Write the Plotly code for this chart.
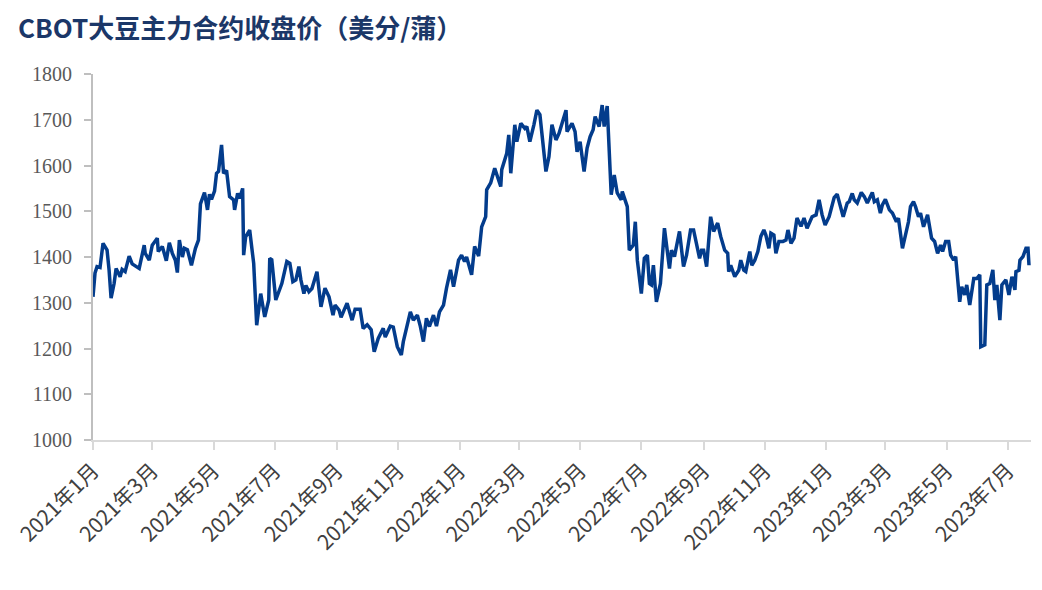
import plotly.graph_objects as go

title_text = "CBOT大豆主力合约收盘价（美分/蒲）"

dates = [
    "2021-01-01", "2021-01-03", "2021-01-05", "2021-01-08", "2021-01-11", "2021-01-15", "2021-01-17",
    "2021-01-19", "2021-01-22", "2021-01-24", "2021-01-28", "2021-01-30", "2021-02-02", "2021-02-06",
    "2021-02-09", "2021-02-16", "2021-02-21", "2021-02-22", "2021-02-26", "2021-03-01", "2021-03-06",
    "2021-03-07", "2021-03-11", "2021-03-12", "2021-03-15", "2021-03-18", "2021-03-21", "2021-03-24",
    "2021-03-26", "2021-03-28", "2021-03-31", "2021-04-02", "2021-04-05", "2021-04-09", "2021-04-13",
    "2021-04-16", "2021-04-18", "2021-04-22", "2021-04-25", "2021-04-27", "2021-04-29", "2021-05-02",
    "2021-05-04", "2021-05-06", "2021-05-09", "2021-05-11", "2021-05-14", "2021-05-17", "2021-05-21",
    "2021-05-22", "2021-05-25", "2021-05-27", "2021-05-30", "2021-05-31", "2021-06-02", "2021-06-06",
    "2021-06-10", "2021-06-13", "2021-06-17", "2021-06-21", "2021-06-25", "2021-06-26", "2021-06-28",
    "2021-07-02", "2021-07-08", "2021-07-13", "2021-07-16", "2021-07-19", "2021-07-22", "2021-07-25",
    "2021-07-27", "2021-07-30", "2021-08-01", "2021-08-04", "2021-08-07", "2021-08-12", "2021-08-16",
    "2021-08-20", "2021-08-24", "2021-08-28", "2021-08-30", "2021-09-03", "2021-09-05", "2021-09-08",
    "2021-09-11", "2021-09-16", "2021-09-19", "2021-09-24", "2021-09-27", "2021-10-01", "2021-10-05",
    "2021-10-08", "2021-10-12", "2021-10-17", "2021-10-19", "2021-10-24", "2021-10-27", "2021-10-31",
    "2021-11-04", "2021-11-06", "2021-11-10", "2021-11-13", "2021-11-16", "2021-11-20", "2021-11-23",
    "2021-11-26", "2021-11-29", "2021-12-02", "2021-12-06", "2021-12-09", "2021-12-12", "2021-12-16",
    "2021-12-19", "2021-12-23", "2021-12-26", "2021-12-31", "2022-01-03", "2022-01-06", "2022-01-08",
    "2022-01-13", "2022-01-16", "2022-01-20", "2022-01-23", "2022-01-27", "2022-01-28", "2022-02-01",
    "2022-02-05", "2022-02-08", "2022-02-11", "2022-02-12", "2022-02-17", "2022-02-19", "2022-02-21",
    "2022-02-25", "2022-02-27", "2022-03-03", "2022-03-07", "2022-03-09", "2022-03-12", "2022-03-16",
    "2022-03-19", "2022-03-22", "2022-03-24", "2022-03-28", "2022-03-31", "2022-04-03", "2022-04-07",
    "2022-04-10", "2022-04-13", "2022-04-17", "2022-04-18", "2022-04-23", "2022-04-26", "2022-04-28",
    "2022-05-01", "2022-05-05", "2022-05-08", "2022-05-11", "2022-05-14", "2022-05-16", "2022-05-20",
    "2022-05-23", "2022-05-25", "2022-05-28", "2022-06-01", "2022-06-04", "2022-06-07", "2022-06-11",
    "2022-06-12", "2022-06-17", "2022-06-19", "2022-06-23", "2022-06-25", "2022-06-27", "2022-07-01",
    "2022-07-04", "2022-07-07", "2022-07-09", "2022-07-11", "2022-07-13", "2022-07-16", "2022-07-20",
    "2022-07-24", "2022-07-27", "2022-07-29", "2022-07-31", "2022-08-03", "2022-08-08", "2022-08-12",
    "2022-08-15", "2022-08-19", "2022-08-22", "2022-08-24", "2022-08-28", "2022-08-30", "2022-09-01",
    "2022-09-04", "2022-09-08", "2022-09-11", "2022-09-15", "2022-09-18", "2022-09-22", "2022-09-25",
    "2022-09-26", "2022-09-28", "2022-10-02", "2022-10-06", "2022-10-08", "2022-10-11", "2022-10-13",
    "2022-10-17", "2022-10-19", "2022-10-22", "2022-10-25", "2022-10-28", "2022-10-31", "2022-11-02",
    "2022-11-05", "2022-11-07", "2022-11-10", "2022-11-12", "2022-11-15", "2022-11-19", "2022-11-22",
    "2022-11-24", "2022-11-27", "2022-11-30", "2022-12-03", "2022-12-07", "2022-12-10", "2022-12-13",
    "2022-12-18", "2022-12-22", "2022-12-25", "2022-12-28", "2022-12-31", "2023-01-04", "2023-01-09",
    "2023-01-12", "2023-01-16", "2023-01-18", "2023-01-22", "2023-01-24", "2023-01-27", "2023-01-29",
    "2023-02-01", "2023-02-05", "2023-02-08", "2023-02-11", "2023-02-16", "2023-02-18", "2023-02-21",
    "2023-02-24", "2023-02-26", "2023-03-01", "2023-03-05", "2023-03-08", "2023-03-12", "2023-03-14",
    "2023-03-18", "2023-03-20", "2023-03-24", "2023-03-26", "2023-03-29", "2023-03-31", "2023-04-03",
    "2023-04-05", "2023-04-08", "2023-04-12", "2023-04-16", "2023-04-19", "2023-04-22", "2023-04-25",
    "2023-04-27", "2023-04-30", "2023-05-03", "2023-05-05", "2023-05-08", "2023-05-10", "2023-05-12",
    "2023-05-14", "2023-05-16", "2023-05-19", "2023-05-21", "2023-05-24", "2023-05-28", "2023-05-31",
    "2023-06-03", "2023-06-04", "2023-06-08", "2023-06-10", "2023-06-13", "2023-06-16", "2023-06-18",
    "2023-06-20", "2023-06-23", "2023-06-25", "2023-06-29", "2023-07-02", "2023-07-05", "2023-07-08",
    "2023-07-09", "2023-07-12", "2023-07-13", "2023-07-16", "2023-07-19", "2023-07-21", "2023-07-22",
]

prices = [
    1313, 1365, 1379, 1377, 1430, 1415, 1372,
    1310, 1342, 1375, 1357, 1373, 1368, 1402,
    1385, 1375, 1426, 1408, 1393, 1426, 1441,
    1412, 1423, 1415, 1392, 1431, 1408, 1393,
    1366, 1437, 1400, 1419, 1416, 1382, 1419,
    1437, 1516, 1541, 1503, 1537, 1526, 1544,
    1583, 1587, 1645, 1583, 1589, 1532, 1525,
    1503, 1539, 1528, 1550, 1404, 1444, 1459,
    1386, 1251, 1320, 1269, 1306, 1397, 1394,
    1306, 1342, 1390, 1386, 1346, 1350, 1379,
    1350, 1320, 1338, 1324, 1331, 1368, 1291,
    1332, 1313, 1273, 1295, 1284, 1268, 1284,
    1299, 1262, 1286, 1286, 1244, 1252, 1241,
    1193, 1222, 1244, 1225, 1249, 1247, 1204,
    1186, 1215, 1248, 1280, 1262, 1273, 1248,
    1215, 1266, 1248, 1273, 1249, 1280, 1295,
    1332, 1372, 1335, 1393, 1404, 1390, 1400,
    1361, 1423, 1402, 1466, 1488, 1547, 1562,
    1594, 1576, 1554, 1591, 1627, 1667, 1583,
    1689, 1652, 1692, 1681, 1685, 1652, 1689,
    1721, 1711, 1670, 1587, 1619, 1689, 1656,
    1670, 1692, 1721, 1674, 1692, 1674, 1630,
    1652, 1587, 1638, 1663, 1678, 1707, 1685,
    1732, 1685, 1730, 1536, 1579, 1540, 1525,
    1543, 1510, 1415, 1426, 1477, 1393, 1320,
    1397, 1404, 1342, 1339, 1382, 1302, 1342,
    1463, 1415, 1375, 1415, 1401, 1456, 1379,
    1404, 1459, 1459, 1441, 1397, 1415, 1415,
    1379, 1488, 1456, 1474, 1445, 1415, 1408,
    1368, 1382, 1357, 1371, 1393, 1371, 1368,
    1412, 1382, 1393, 1412, 1445, 1459, 1448,
    1419, 1452, 1448, 1408, 1434, 1434, 1437,
    1459, 1430, 1441, 1485, 1467, 1485, 1463,
    1488, 1492, 1525, 1492, 1470, 1488, 1530,
    1537, 1505, 1488, 1518, 1521, 1539, 1525,
    1518, 1541, 1532, 1518, 1541, 1521, 1525,
    1496, 1514, 1526, 1503, 1496, 1477, 1485,
    1419, 1437, 1477, 1510, 1521, 1510, 1488,
    1496, 1466, 1492, 1441, 1434, 1408, 1426,
    1412, 1434, 1434, 1404, 1393, 1401, 1339,
    1302, 1335, 1317, 1339, 1295, 1353, 1353,
    1361, 1204, 1208, 1339, 1342, 1372, 1306,
    1339, 1262, 1339, 1350, 1317, 1357, 1328,
    1368, 1371, 1393, 1401, 1419, 1419, 1382,
]

tick_dates = [
    "2021-01-01", "2021-03-01", "2021-05-01", "2021-07-01", "2021-09-01", "2021-11-01",
    "2022-01-01", "2022-03-01", "2022-05-01", "2022-07-01", "2022-09-01", "2022-11-01",
    "2023-01-01", "2023-03-01", "2023-05-01", "2023-07-01",
]
tick_labels = [
    "2021年1月", "2021年3月", "2021年5月", "2021年7月", "2021年9月", "2021年11月",
    "2022年1月", "2022年3月", "2022年5月", "2022年7月", "2022年9月", "2022年11月",
    "2023年1月", "2023年3月", "2023年5月", "2023年7月",
]
y_ticks = [1000, 1100, 1200, 1300, 1400, 1500, 1600, 1700, 1800]

W, H = 1042, 590
M_L, M_R, M_T, M_B = 85, 19, 66, 158
plot_w = W - M_L - M_R
plot_h = H - M_T - M_B

fig = go.Figure()
fig.add_trace(go.Scatter(
    x=dates, y=prices, mode="lines",
    line=dict(color="#033C8C", width=3.5),
    hoverinfo="x+y", showlegend=False,
))

# title as an annotation, placed relative to the plot area
fig.add_annotation(
    text="<b>" + title_text + "</b>",
    xref="paper", yref="paper",
    x=(8 - M_L) / plot_w, y=1 + (M_T - 18) / plot_h,
    xanchor="left", yanchor="middle", showarrow=False,
    font=dict(family="Noto Sans CJK SC", size=26, color="#1B3768"),
)

# page body adds an 8px offset; margins compensate for it
fig.update_layout(
    width=W, height=H,
    paper_bgcolor="white", plot_bgcolor="white",
    margin=dict(l=M_L, r=M_R, t=M_T, b=M_B),
    xaxis=dict(
        type="date", automargin=False,
        range=["2021-01-01", "2023-07-24"],
        tickmode="array", tickvals=tick_dates, ticktext=tick_labels,
        tickangle=-45,
        tickfont=dict(family="Noto Sans CJK SC", size=21, color="#404040"),
        showgrid=False, zeroline=False,
        showline=True, linecolor="#D9D9D9", linewidth=2,
        ticks="outside", ticklen=8, tickcolor="#D9D9D9", tickwidth=1.5,
    ),
    yaxis=dict(
        range=[1000, 1800], automargin=False,
        tickmode="array", tickvals=y_ticks,
        tickfont=dict(family="Liberation Serif", size=20, color="#595959"),
        showgrid=False, zeroline=False,
        showline=True, linecolor="#BFBFBF", linewidth=2,
        ticks="outside", ticklen=7, tickcolor="#BFBFBF", tickwidth=1.5,
        ticklabelstandoff=8,
    ),
)

fig.write_html("out.html")
